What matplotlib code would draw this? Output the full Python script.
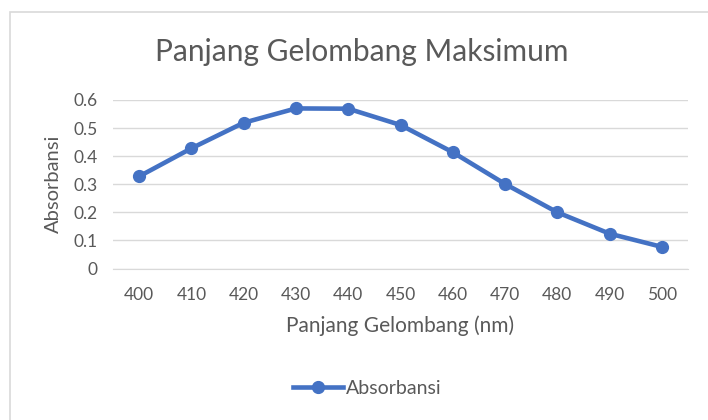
import numpy as np
import matplotlib.pyplot as plt
from matplotlib.patches import Rectangle

wavelength = ['400', '410', '420', '430', '440', '450', '460', '470', '480', '490', '500']
absorbance = [0.328, 0.428, 0.519, 0.570, 0.569, 0.511, 0.414, 0.301, 0.200, 0.124, 0.077]
yticks = [0, 0.1, 0.2, 0.3, 0.4, 0.5, 0.6]
ytick_labels = ['0', '0.1', '0.2', '0.3', '0.4', '0.5', '0.6']

plt.rcParams['font.family'] = ['Lato', 'DejaVu Sans']
text_color = '#595959'
blue = '#4472C4'

fig = plt.figure(figsize=(7.08, 4.2), dpi=100)
# chart border (partly cut off like the screenshot)
fig.patches.append(Rectangle((10 / 708, -0.1), 1.2, 1 - 12 / 420 + 0.1,
                             transform=fig.transFigure, fill=False,
                             edgecolor='#D9D9D9', linewidth=1.2))

ax = fig.add_axes([113 / 708, 1 - 268.5 / 420, 575 / 708, 168.5 / 420])
x = np.arange(len(wavelength))
ax.plot(x, absorbance, color=blue, linewidth=3.3, marker='o', markersize=8.5,
        label='Absorbansi', solid_joinstyle='round')

ax.set_xlim(-0.5, len(wavelength) - 0.5)
ax.set_ylim(0, 0.6)
ax.set_yticks(yticks)
ax.set_yticklabels(ytick_labels)
ax.set_xticks(x)
ax.set_xticklabels(wavelength)
ax.grid(axis='y', color='#D9D9D9', linewidth=1)
ax.set_axisbelow(True)
for s in ['top', 'right', 'left']:
    ax.spines[s].set_visible(False)
ax.spines['bottom'].set_color('#D9D9D9')
ax.tick_params(length=0, labelsize=12.5, labelcolor=text_color)
ax.tick_params(axis='x', pad=13)
ax.tick_params(axis='y', pad=11)

ax.set_xlabel('Panjang Gelombang (nm)', fontsize=15, color=text_color, labelpad=9)
ax.set_ylabel('Absorbansi', fontsize=14.5, color=text_color, labelpad=8)

fig.text(362 / 708, 1 - 52 / 420, 'Panjang Gelombang Maksimum', fontsize=21.5,
         color=text_color, ha='center', va='center')

fig.legend(loc='center', bbox_to_anchor=(367 / 708, 1 - 388 / 420), frameon=False,
           fontsize=14, labelcolor=text_color, handlelength=2.6, handletextpad=0.1)

fig.savefig('out.png', dpi=100)
